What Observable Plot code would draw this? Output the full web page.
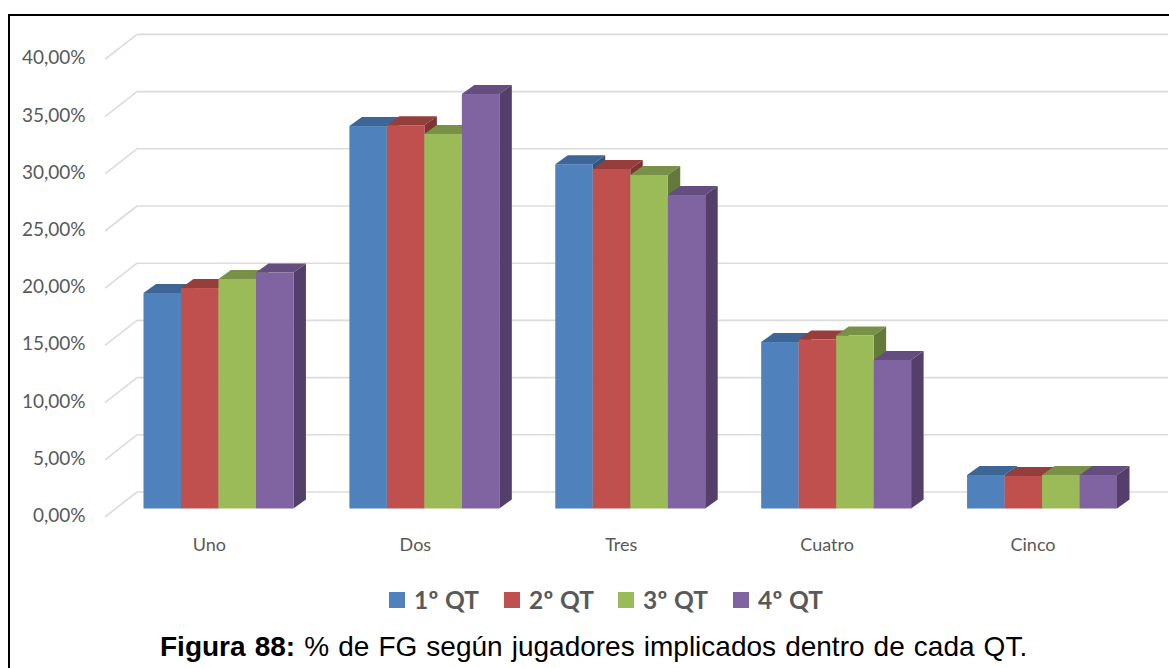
<!DOCTYPE html>
<html lang="es">
<head>
<meta charset="utf-8">
<script src="https://cdn.jsdelivr.net/npm/d3@7"></script>
<script src="https://cdn.jsdelivr.net/npm/@observablehq/plot@0.6"></script>
<style>
  html, body { margin: 0; padding: 0; width: 1169px; height: 668px; overflow: hidden; background: #fff; }
  #frame { position: absolute; left: 8px; top: 14px; width: 2000px; height: 2000px; border: 2.5px solid #000; box-sizing: border-box; }
  #chart { position: absolute; left: 0; top: 0; }
  #legend { position: absolute; left: 0; top: 584px; width: 1169px; height: 32px; font: 700 24.5px Lato, sans-serif; color: #595959; letter-spacing: 0.3px; }
  #legend .item { position: absolute; top: 0; line-height: 32px; white-space: nowrap; }
  #legend .swatch { position: absolute; left: 0; top: 8px; width: 16px; height: 16px; }
  #legend .label { position: absolute; left: 25px; top: 0; }
  #caption { position: absolute; left: 160px; top: 629px; white-space: nowrap; font: 28px/36px "Liberation Sans", Arial, sans-serif; word-spacing: 1.3px; color: #000; }
</style>
</head>
<body>
<div id="frame"></div>
<div id="chart"></div>
<div id="legend"></div>
<div id="caption"><b>Figura 88:</b> % de FG según jugadores implicados dentro de cada QT.</div>
<script>
const categories = ["Uno", "Dos", "Tres", "Cuatro", "Cinco"];
const seriesNames = ["1º QT", "2º QT", "3º QT", "4º QT"];
const q1 = [18.84, 33.43, 30.10, 14.55, 2.93];
const q2 = [19.27, 33.50, 29.68, 14.77, 2.84];
const q3 = [20.06, 32.74, 29.15, 15.12, 2.93];
const q4 = [20.63, 36.23, 27.40, 12.98, 2.93];
const frontColors = ["#4F81BD", "#C0504D", "#9BBB59", "#8064A2"];
const topColors = ["#3D6595", "#953E3B", "#789146", "#634E7F"];
const sideColors = ["#335479", "#7D3432", "#647A3A", "#533F6A"];
const yTicks = [0, 5, 10, 15, 20, 25, 30, 35, 40];
const swatchLefts = [389, 504, 618, 733];

const slot = 5.493;            // one group of four bars plus the gap, in bar widths
const allValues = [q1, q2, q3, q4];
const rows = categories.flatMap((c, ci) =>
  seriesNames.map((s, si) => ({
    category: c, series: si, value: allValues[si][ci],
    start: ci * slot + si, end: ci * slot + si + 1
  })));
const labelRows = categories.map((c, ci) => ({ c, x: ci * slot + 2 }));

const barDepth = { x: 12.5, y: -9 };
const wallDepth = { x: 32, y: -25 };

function withDepth(index, scales, values, dimensions, context, next) {
  const g = next(index, scales, values, dimensions, context);
  const rects = Array.from(g.querySelectorAll("rect"));
  rects.forEach((r, k) => {
    const row = rows[index[k]];
    const x = +r.getAttribute("x"), y = +r.getAttribute("y");
    const w = +r.getAttribute("width"), h = +r.getAttribute("height");
    const { x: dx, y: dy } = barDepth;
    const top = document.createElementNS("http://www.w3.org/2000/svg", "polygon");
    top.setAttribute("points", `${x},${y} ${x + dx},${y + dy} ${x + w + dx},${y + dy} ${x + w},${y}`);
    top.setAttribute("fill", topColors[row.series]);
    const side = document.createElementNS("http://www.w3.org/2000/svg", "polygon");
    side.setAttribute("points", `${x + w},${y} ${x + w + dx},${y + dy} ${x + w + dx},${y + h + dy} ${x + w},${y + h}`);
    side.setAttribute("fill", sideColors[row.series]);
    g.insertBefore(top, r);
    g.insertBefore(side, r);
  });
  return g;
}

function withWallDiagonals(index, scales, values, dimensions, context, next) {
  const g = next(index, scales, values, dimensions, context);
  Array.from(g.querySelectorAll("line")).forEach((l) => {
    const d = l.cloneNode(false);
    const x = +l.getAttribute("x1"), y = +l.getAttribute("y1");
    d.setAttribute("x1", x); d.setAttribute("y1", y);
    d.setAttribute("x2", x - wallDepth.x); d.setAttribute("y2", y - wallDepth.y);
    g.appendChild(d);
  });
  return g;
}

const plot = Plot.plot({
  width: 1169,
  height: 575,
  marginLeft: 137,
  marginRight: 1,
  marginTop: 20,
  marginBottom: 40,
  style: { background: "transparent", fontFamily: "Lato, sans-serif", color: "#595959" },
  x: { domain: [0, 4 * slot + 4], range: [143.5, 1117], axis: null },
  y: { domain: [0, 40], range: [508.5, 50.9], axis: null },
  marks: [
    Plot.ruleY(yTicks, { stroke: "#DCDCDC", strokeWidth: 1.6, dy: -17, render: withWallDiagonals }),
    Plot.rect(rows, {
      x1: "start", x2: "end", y1: () => 0, y2: "value",
      fill: (d) => frontColors[d.series],
      render: withDepth
    }),
    Plot.axisY(yTicks, {
      anchor: "left", label: null, tickSize: 0, tickPadding: 52, dy: 7, fontSize: 19, fill: "#595959",
      tickFormat: (v) => v.toFixed(2).replace(".", ",") + "%"
    }),
    Plot.text(labelRows, {
      x: "x", y: () => 0, text: "c", dx: -9.5, dy: 36, fontSize: 18, fill: "#595959",
      style: { letterSpacing: "1.5px" }
    })
  ]
});
document.getElementById("chart").appendChild(plot);

const legend = document.getElementById("legend");
seriesNames.forEach((name, i) => {
  const item = document.createElement("div");
  item.className = "item";
  item.style.left = swatchLefts[i] + "px";
  const swatch = document.createElement("span");
  swatch.className = "swatch";
  swatch.style.background = frontColors[i];
  const label = document.createElement("span");
  label.className = "label";
  label.textContent = name;
  item.append(swatch, label);
  legend.appendChild(item);
});
</script>
</body>
</html>
